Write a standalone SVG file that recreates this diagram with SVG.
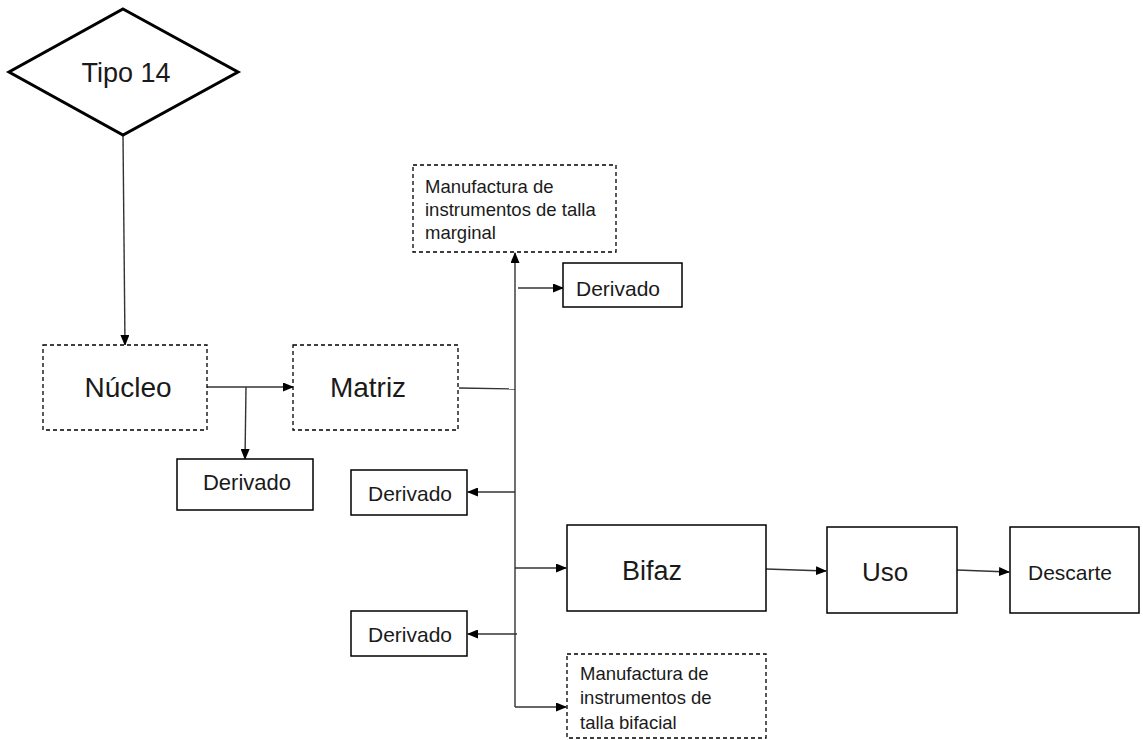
<svg xmlns="http://www.w3.org/2000/svg" width="1143" height="740" viewBox="0 0 1143 740">
<style>
.box{fill:#fff;stroke:#000;stroke-width:1.5}
.dash{fill:#fff;stroke:#000;stroke-width:1.3;stroke-dasharray:4 3}
.t{font-family:"Liberation Sans",Arial,sans-serif;fill:#1a1a1a}
.c{stroke:#333;stroke-width:1.4;fill:none}
.a{marker-end:url(#ah)}
</style>
<defs>
<marker id="ah" markerWidth="11" markerHeight="9" refX="10" refY="4.5" orient="auto" markerUnits="userSpaceOnUse">
<path d="M0,0 L11,4.5 L0,9 Z" fill="#000"/>
</marker>
</defs>
<rect width="1143" height="740" fill="#fff"/>
<g id="connectors">
<path class="c a" d="M123,135 L125,345"/>
<path class="c a" d="M207,387 L293,387"/>
<path class="c a" d="M246,387 L245,459"/>
<path class="c" d="M459,388 L515,389"/>
<path class="c a" d="M515,707 L515,253"/>
<path class="c a" d="M518,288 L563,288"/>
<path class="c a" d="M515,492 L468,492"/>
<path class="c a" d="M515,568 L566,568"/>
<path class="c a" d="M517,634 L468,634"/>
<path class="c a" d="M515,707 L566,707"/>
<path class="c a" d="M766,569 L826,571"/>
<path class="c a" d="M957,570 L1009,572"/>
</g>
<g id="tipo14">
<polygon points="123,9 238,72 123,135 9,72" fill="#fff" stroke="#000" stroke-width="3"/>
<text class="t" x="126" y="82" font-size="27" text-anchor="middle">Tipo 14</text>
</g>
<g id="nucleo">
<rect class="dash" x="43" y="345" width="164" height="85"/>
<text class="t" x="128" y="397" font-size="28" text-anchor="middle">Núcleo</text>
</g>
<g id="derivado1">
<rect class="box" x="177" y="459" width="136" height="51"/>
<text class="t" x="247" y="490" font-size="22" text-anchor="middle">Derivado</text>
</g>
<g id="matriz">
<rect class="dash" x="293" y="345" width="165" height="85"/>
<text class="t" x="368" y="397" font-size="28" text-anchor="middle">Matriz</text>
</g>
<g id="manufactura-marginal">
<rect class="dash" x="413" y="165" width="203" height="87"/>
<text class="t" font-size="18.5"><tspan x="425" y="193">Manufactura de</tspan><tspan x="425" y="216">instrumentos de talla</tspan><tspan x="425" y="239">marginal</tspan></text>
</g>
<g id="derivado2">
<rect class="box" x="563" y="263" width="119" height="44"/>
<text class="t" x="618" y="296" font-size="21" text-anchor="middle">Derivado</text>
</g>
<g id="derivado3">
<rect class="box" x="351" y="470" width="116" height="45"/>
<text class="t" x="410" y="501" font-size="21" text-anchor="middle">Derivado</text>
</g>
<g id="bifaz">
<rect class="box" x="567" y="525" width="199" height="86"/>
<text class="t" x="652" y="580" font-size="27" text-anchor="middle">Bifaz</text>
</g>
<g id="derivado4">
<rect class="box" x="351" y="611" width="116" height="45"/>
<text class="t" x="410" y="642" font-size="21" text-anchor="middle">Derivado</text>
</g>
<g id="manufactura-bifacial">
<rect class="dash" x="567" y="654" width="199" height="84"/>
<text class="t" font-size="18.5"><tspan x="580" y="680">Manufactura de</tspan><tspan x="580" y="704">instrumentos de</tspan><tspan x="580" y="729">talla bifacial</tspan></text>
</g>
<g id="uso">
<rect class="box" x="827" y="527" width="130" height="86"/>
<text class="t" x="885" y="581" font-size="26" text-anchor="middle">Uso</text>
</g>
<g id="descarte">
<rect class="box" x="1010" y="527" width="129" height="86"/>
<text class="t" x="1070" y="580" font-size="21" text-anchor="middle">Descarte</text>
</g>
</svg>
